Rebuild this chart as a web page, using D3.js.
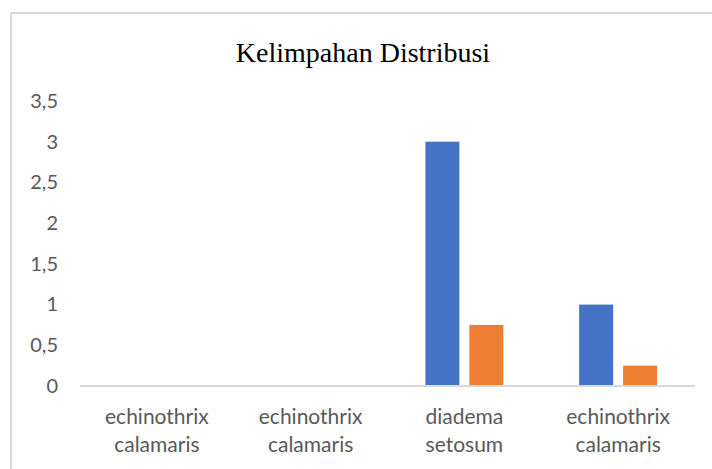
<!DOCTYPE html>
<html>
<head>
<meta charset="utf-8">
<script src="https://cdn.jsdelivr.net/npm/d3@7"></script>
<style>
  body { margin: 0; background: #fff; }
  svg { display: block; }
</style>
</head>
<body>
<svg id="chart" width="712" height="469"></svg>
<script>
// chart data
var categories = [
    ["echinothrix", "calamaris"],
    ["echinothrix", "calamaris"],
    ["diadema", "setosum"],
    ["echinothrix", "calamaris"]
];
var seriesBlue = [0, 0, 3, 1];
var seriesOrange = [0, 0, 0.75, 0.25];
var yTicks = [0, 0.5, 1, 1.5, 2, 2.5, 3, 3.5];
var seriesNames = ["blue", "orange"];
var seriesColors = ["#4472c4", "#ed7d31"];

var svg = d3.select("#chart");

// chart frame (runs off the right and bottom edge)
svg.append("rect")
    .attr("x", 11).attr("y", 13)
    .attr("width", 760).attr("height", 520)
    .attr("fill", "#fff")
    .attr("stroke", "#d9d9d9")
    .attr("stroke-width", 2);

svg.append("text")
    .attr("x", 363).attr("y", 62)
    .attr("text-anchor", "middle")
    .style("font-family", "'Liberation Serif', 'Times New Roman', serif")
    .style("font-size", "28px")
    .attr("fill", "#000")
    .text("Kelimpahan Distribusi");

var y = d3.scaleLinear().domain([0, 3.5]).range([386, 101]);

var x0 = d3.scaleBand()
    .domain(d3.range(categories.length))
    .range([80, 695])
    .paddingInner(0.493)
    .paddingOuter(0.2465);

var x1 = d3.scaleBand()
    .domain(seriesNames)
    .range([0, x0.bandwidth()])
    .paddingInner(0.227);

// y axis labels only, no line
var yAxis = d3.axisLeft(y)
    .tickValues(yTicks)
    .tickSize(0)
    .tickPadding(0)
    .tickFormat(function (d) { return String(d).replace(".", ","); });

var yG = svg.append("g").attr("transform", "translate(58,0)").call(yAxis);
yG.select(".domain").remove();
yG.selectAll("text")
    .style("font-family", "Lato, 'Open Sans', sans-serif")
    .style("font-size", "20px")
    .attr("fill", "#595959");

// bars
var rows = categories.map(function (c, i) {
    return { i: i, values: [seriesBlue[i], seriesOrange[i]] };
});

var groups = svg.selectAll("g.cat")
    .data(rows)
    .enter().append("g")
    .attr("class", "cat")
    .attr("transform", function (d) { return "translate(" + x0(d.i) + ",0)"; });

groups.selectAll("rect")
    .data(function (d) {
        return d.values.map(function (v, k) { return { key: seriesNames[k], value: v, color: seriesColors[k] }; });
    })
    .enter().append("rect")
    .attr("x", function (d) { return x1(d.key); })
    .attr("y", function (d) { return y(d.value); })
    .attr("width", x1.bandwidth())
    .attr("height", function (d) { return y(0) - y(d.value); })
    .attr("fill", function (d) { return d.color; });

// baseline
svg.append("line")
    .attr("x1", 80).attr("x2", 695)
    .attr("y1", y(0)).attr("y2", y(0))
    .attr("stroke", "#d9d9d9")
    .attr("stroke-width", 2);

// category labels, two lines each
var labels = svg.selectAll("text.cat")
    .data(categories)
    .enter().append("text")
    .attr("class", "cat")
    .attr("text-anchor", "middle")
    .style("font-family", "Lato, 'Open Sans', sans-serif")
    .style("font-size", "21px")
    .attr("fill", "#595959");

labels.each(function (d, i) {
    var cx = x0(i) + x0.bandwidth() / 2;
    d3.select(this).selectAll("tspan")
        .data(d)
        .enter().append("tspan")
        .attr("x", cx)
        .attr("y", function (t, k) { return 424 + k * 28; })
        .text(function (t) { return t; });
});
</script>
</body>
</html>
